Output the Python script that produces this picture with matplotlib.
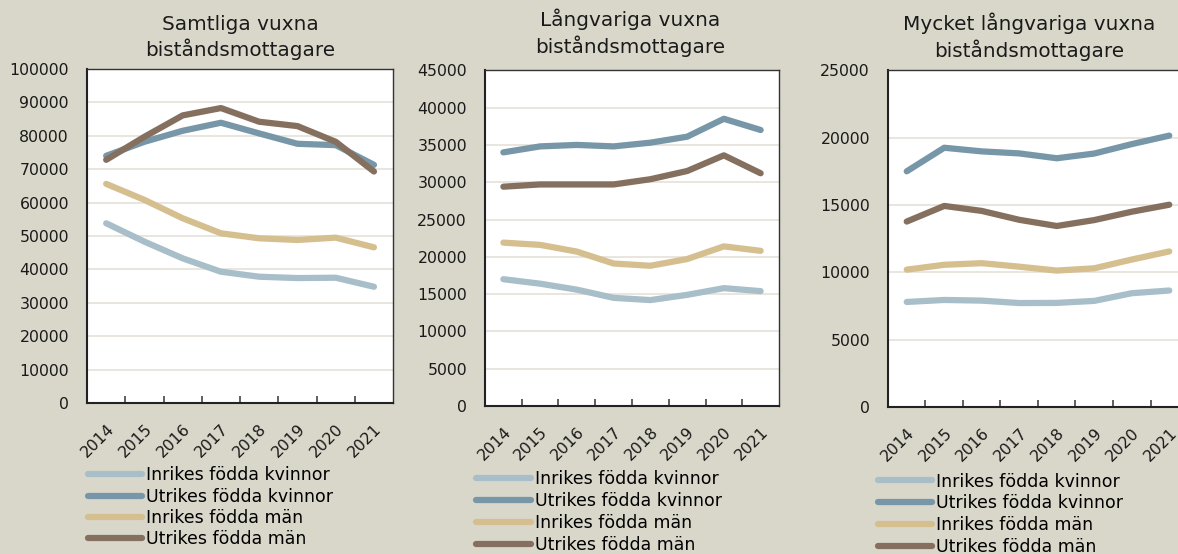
import matplotlib
matplotlib.use("Agg")
import matplotlib.pyplot as plt
import numpy as np

# Data
years = ["2014", "2015", "2016", "2017", "2018", "2019", "2020", "2021"]
series_names = ["Inrikes födda kvinnor", "Utrikes födda kvinnor",
                "Inrikes födda män", "Utrikes födda män"]

# Samtliga vuxna biståndsmottagare
samtliga_inr_kv = [53800, 48300, 43300, 39300, 37800, 37400, 37500, 34800]
samtliga_utr_kv = [74000, 78200, 81500, 83900, 80700, 77600, 77200, 71300]
samtliga_inr_man = [65600, 60800, 55300, 50800, 49300, 48800, 49500, 46600]
samtliga_utr_man = [72800, 79700, 86100, 88300, 84200, 82900, 78200, 69300]

# Långvariga vuxna biståndsmottagare
lang_inr_kv = [17000, 16400, 15600, 14500, 14200, 14900, 15800, 15400]
lang_utr_kv = [34000, 34800, 35000, 34800, 35300, 36100, 38500, 37000]
lang_inr_man = [21900, 21600, 20700, 19100, 18800, 19700, 21400, 20800]
lang_utr_man = [29400, 29700, 29700, 29700, 30400, 31500, 33600, 31200]

# Mycket långvariga vuxna biståndsmottagare
mycket_inr_kv = [7800, 7950, 7900, 7720, 7730, 7880, 8450, 8650]
mycket_utr_kv = [17500, 19250, 18980, 18830, 18470, 18820, 19520, 20150]
mycket_inr_man = [10200, 10560, 10680, 10420, 10130, 10300, 10950, 11550]
mycket_utr_man = [13770, 14930, 14560, 13900, 13440, 13880, 14500, 15020]

titles = ["Samtliga vuxna\nbiståndsmottagare",
          "Långvariga vuxna\nbiståndsmottagare",
          "Mycket långvariga vuxna\nbiståndsmottagare"]
y_max = [100000, 45000, 25000]
y_step = [10000, 5000, 5000]

colors = ["#a8bfc9", "#7797a8", "#d5bf8f", "#85705f"]
bg = "#d9d7ca"

plt.rcParams['font.family'] = ['DejaVu Sans']

fig = plt.figure(figsize=(11.78, 5.54), dpi=100, facecolor=bg)

panels = [
    [samtliga_inr_kv, samtliga_utr_kv, samtliga_inr_man, samtliga_utr_man],
    [lang_inr_kv, lang_utr_kv, lang_inr_man, lang_utr_man],
    [mycket_inr_kv, mycket_utr_kv, mycket_inr_man, mycket_utr_man],
]
# axes rectangles (figure fractions); the third panel runs past the right edge
rects = [
    [0.0739, 0.2726, 0.2598, 0.6029],
    [0.4117, 0.2671, 0.2496, 0.6060],
    [0.7538, 0.2653, 0.2547, 0.6078],
]
title_pos = [(0.204, 0.973), (0.535, 0.984), (0.874, 0.977)]
legend_pos = [(0.0745, 0.158), (0.404, 0.152), (0.745, 0.147)]
legend_spacing = [0.18, 0.23, 0.22]

x = np.arange(len(years))

for i in range(3):
    ax = fig.add_axes(rects[i])
    ax.set_facecolor("white")
    for s, name, c in zip(panels[i], series_names, colors):
        ax.plot(x, s, color=c, lw=4.5, solid_capstyle='round',
                solid_joinstyle='round', label=name)

    ax.set_xlim(-0.5, len(years) - 0.5)
    ax.set_ylim(0, y_max[i])
    ax.set_yticks(np.arange(0, y_max[i] + 1, y_step[i]))
    ax.yaxis.grid(True, color="#e5e2da", lw=1.2)
    ax.set_axisbelow(True)
    ax.tick_params(axis='y', length=0, pad=13, labelsize=11.3, colors="#1a1a1a")

    # tick marks between categories, labels at category centres
    ax.set_xticks(np.arange(0.5, len(years) - 1, 1.0))
    ax.set_xticklabels([])
    ax.tick_params(axis='x', which='major', direction='in', length=5,
                   width=1.2, color="#444444")
    ax.set_xticks(x, minor=True)
    ax.set_xticklabels(years, minor=True, rotation=45, ha='right',
                       rotation_mode='anchor', fontsize=11.3, color="#1a1a1a")
    ax.tick_params(axis='x', which='minor', length=0, pad=13)

    for side in ['left', 'bottom']:
        ax.spines[side].set_color("#222222")
        ax.spines[side].set_linewidth(1.5)
    for side in ['top', 'right']:
        ax.spines[side].set_color("#333333")
        ax.spines[side].set_linewidth(1.0)

    fig.text(title_pos[i][0], title_pos[i][1], titles[i], ha='center',
             va='top', fontsize=14.4, color="#1a1a1a", linespacing=1.28)

    ax.legend(loc='upper left', bbox_to_anchor=legend_pos[i],
              bbox_transform=fig.transFigure, frameon=False, fontsize=12.5,
              handlelength=3.15, handletextpad=0.23,
              labelspacing=legend_spacing[i], borderpad=0, borderaxespad=0)

fig.savefig("out.png", dpi=100, facecolor=bg)
